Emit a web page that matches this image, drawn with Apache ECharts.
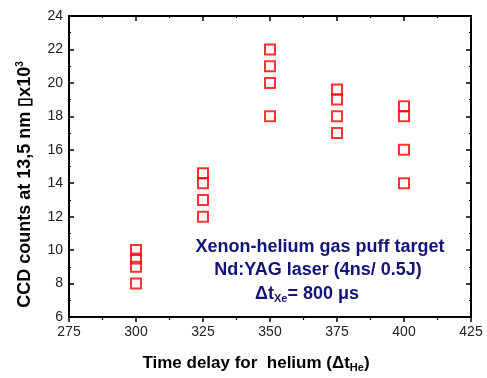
<!DOCTYPE html>
<html>
<head>
<meta charset="utf-8">
<script src="https://cdn.jsdelivr.net/npm/echarts@6/dist/echarts.min.js"></script>
<style>
  html, body { margin: 0; padding: 0; background: #fff; }
  #chart { width: 487px; height: 378px; }
</style>
</head>
<body>
<div id="chart"></div>
<script>
// Helium time delay (ns) and CCD counts (x10^3) measured at each delay
const delays = [300, 325, 350, 375, 400];
const counts300 = [10.0, 9.5, 9.0, 8.0];
const counts325 = [14.6, 14.0, 13.0, 12.0];
const counts350 = [22.0, 21.0, 20.0, 18.0];
const counts375 = [19.6, 19.0, 18.0, 17.0];
const counts400 = [18.6, 18.0, 16.0, 14.0];
const countsByDelay = [counts300, counts325, counts350, counts375, counts400];

const xTicks = { min: 275, max: 425, interval: 25 };
const yTicks = { min: 6, max: 24, interval: 2 };

const points = [];
delays.forEach((d, i) => countsByDelay[i].forEach(v => points.push([d, v])));

const FONT = '"Liberation Sans", Arial, sans-serif';
const navy = '#13137a';

const chart = echarts.init(document.getElementById('chart'), null, { renderer: 'canvas' });

const frameLine = { show: true, lineStyle: { color: '#000', width: 2 } };

chart.setOption({
  animation: false,
  backgroundColor: '#fff',
  grid: { left: 69, right: 16, top: 16, bottom: 58 },
  xAxis: [
    {
      type: 'value', position: 'bottom',
      min: xTicks.min, max: xTicks.max, interval: xTicks.interval,
      axisLine: frameLine,
      axisTick: { show: true, inside: false, length: 5, lineStyle: { color: '#000', width: 1.5 } },
      minorTick: { show: true, splitNumber: 2, length: 3, lineStyle: { color: '#000', width: 1.2 } },
      splitLine: { show: false },
      axisLabel: { color: '#222', fontFamily: FONT, fontSize: 14, margin: 8 },
      name: 'Time delay for  helium (Δt{sub|He})',
      nameLocation: 'middle', nameGap: 36,
      nameTextStyle: {
        color: '#000', fontFamily: FONT, fontSize: 17, fontWeight: 'bold',
        padding: [0, 28, 0, 0],
        rich: { sub: { fontFamily: FONT, fontSize: 11, fontWeight: 'bold', padding: [9, 0, 0, 0] } }
      }
    },
    {
      type: 'value', position: 'top',
      min: xTicks.min, max: xTicks.max, interval: xTicks.interval,
      axisLine: frameLine,
      axisTick: { show: true, inside: true, length: 5, lineStyle: { color: '#000', width: 1.5 } },
      minorTick: { show: true, splitNumber: 2, length: 2, lineStyle: { color: '#000', width: 1.2 } },
      splitLine: { show: false },
      axisLabel: { show: false }
    }
  ],
  yAxis: [
    {
      type: 'value', position: 'left',
      min: yTicks.min, max: yTicks.max, interval: yTicks.interval,
      axisLine: frameLine,
      axisTick: { show: true, inside: true, length: 5, lineStyle: { color: '#000', width: 1.5 } },
      minorTick: { show: true, splitNumber: 2, length: 2, lineStyle: { color: '#000', width: 1.2 } },
      splitLine: { show: false },
      axisLabel: { color: '#222', fontFamily: FONT, fontSize: 14, margin: 6 },
      name: 'CCD counts at 13,5 nm ▯x10{sup|3}',
      nameLocation: 'middle', nameGap: 33,
      nameTextStyle: {
        color: '#000', fontFamily: FONT, fontSize: 18, fontWeight: 'bold',
        padding: [0, 36, 0, 0],
        rich: { sup: { fontFamily: FONT, fontSize: 10, fontWeight: 'bold', padding: [0, 0, 11, 0] } }
      }
    },
    {
      type: 'value', position: 'right',
      min: yTicks.min, max: yTicks.max, interval: yTicks.interval,
      axisLine: frameLine,
      axisTick: { show: true, inside: true, length: 5, lineStyle: { color: '#000', width: 1.5 } },
      minorTick: { show: true, splitNumber: 2, length: 2, lineStyle: { color: '#000', width: 1.2 } },
      splitLine: { show: false },
      axisLabel: { show: false }
    }
  ],
  series: [
    {
      type: 'scatter',
      xAxisIndex: 0, yAxisIndex: 0,
      data: points,
      symbol: 'rect',
      symbolSize: 10,
      itemStyle: { color: 'rgba(0,0,0,0)', borderColor: '#ff0000', borderWidth: 2 }
    }
  ],
  graphic: [
    {
      type: 'text', x: 320, y: 247,
      style: { text: 'Xenon-helium gas puff target', fill: navy, font: 'bold 18px ' + FONT, align: 'center', verticalAlign: 'middle' }
    },
    {
      type: 'text', x: 318, y: 270,
      style: { text: 'Nd:YAG laser (4ns/ 0.5J)', fill: navy, font: 'bold 18px ' + FONT, align: 'center', verticalAlign: 'middle' }
    },
    {
      type: 'text', x: 307, y: 294,
      style: {
        text: 'Δt{sub|Xe}= 800 μs',
        fill: navy, font: 'bold 18px ' + FONT, align: 'center', verticalAlign: 'middle',
        rich: { sub: { fill: navy, fontFamily: FONT, fontSize: 11, fontWeight: 'bold', padding: [10, 0, 0, 0] } }
      }
    }
  ]
});
</script>
</body>
</html>
